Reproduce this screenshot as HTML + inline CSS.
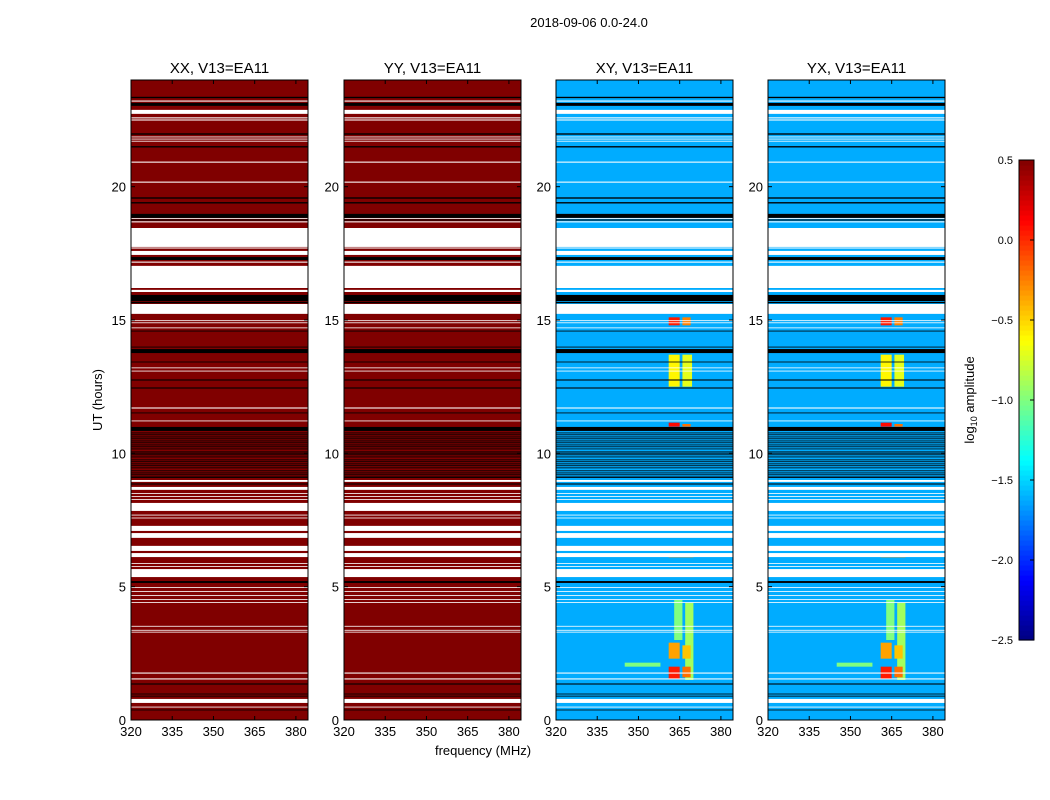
<!DOCTYPE html>
<html><head><meta charset="utf-8"><style>
body{margin:0;background:#fff;}
svg{display:block;font-family:"Liberation Sans","DejaVu Sans",sans-serif;}
</style></head><body>
<svg id="fig" width="1050" height="800">
<text x="589" y="27" font-size="13" text-anchor="middle">2018-09-06 0.0-24.0</text>
<text x="483" y="755" font-size="13" text-anchor="middle">frequency (MHz)</text>
<text transform="translate(102,400) rotate(-90)" font-size="13" text-anchor="middle">UT (hours)</text>
</svg>
<script>
// ---- data ----
const panelTitles = ["XX, V13=EA11","YY, V13=EA11","XY, V13=EA11","YX, V13=EA11"];
const panelKinds = ["auto","auto","cross","cross"];
const xTicks = [320,335,350,365,380];
const yTicks = [0,5,10,15,20];
const cbTicks = [0.5,0.0,-0.5,-1.0,-1.5,-2.0,-2.5];
const cbLabels = ["0.5","0.0","\u22120.5","\u22121.0","\u22121.5","\u22122.0","\u22122.5"];
const autoLevel = 0.5;
const crossLevel = -1.62;
// flagged (white) and zero (black) time bands: [startHour, endHour, type]
const bands = [
[23.32,23.37,'k'],[23.19,23.23,'w'],[23.03,23.14,'k'],[22.73,22.88,'w'],[22.56,22.6,'w'],[22.48,22.52,'w'],
[21.95,22.0,'k'],[21.7,21.72,'w'],[21.78,21.8,'w'],[21.86,21.88,'w'],[21.47,21.52,'k'],
[20.9,20.94,'w'],[20.15,20.19,'w'],
[19.55,19.6,'k'],[19.37,19.42,'k'],[18.83,18.98,'k'],[18.66,18.7,'w'],[18.73,18.77,'k'],[18.8,18.82,'w'],
[17.74,18.45,'w'],[17.68,17.72,'w'],[17.44,17.59,'w'],[17.25,17.36,'k'],[17.15,17.19,'w'],
[16.2,17.03,'w'],[16.05,16.13,'w'],[15.71,15.94,'k'],[15.63,15.68,'k'],[15.23,15.6,'w'],
[14.96,14.99,'w'],[14.88,14.91,'w'],[14.7,14.72,'w'],[14.57,14.6,'k'],
[13.97,14.0,'k'],[13.76,13.91,'k'],[13.41,13.44,'k'],[13.19,13.22,'w'],[13.07,13.1,'w'],[12.73,12.77,'k'],[12.43,12.47,'k'],
[11.68,11.72,'w'],[11.5,11.53,'k'],[11.2,11.23,'w'],[10.84,10.99,'k'],
[10.75,10.78,'k'],[10.68,10.71,'k'],[10.6,10.63,'k'],[10.53,10.56,'k'],[10.45,10.48,'k'],[10.38,10.41,'k'],[10.3,10.33,'k'],
[10.23,10.26,'k'],[10.15,10.18,'k'],[10.04,10.07,'k'],[10.0,10.02,'k'],[9.93,9.96,'k'],[9.85,9.88,'k'],[9.74,9.77,'k'],
[9.67,9.7,'k'],[9.59,9.62,'k'],[9.52,9.55,'k'],[9.44,9.47,'k'],[9.33,9.36,'k'],[9.25,9.28,'k'],[9.18,9.21,'k'],
[9.08,9.13,'k'],[8.93,9.0,'w'],[8.83,8.87,'k'],[8.63,8.74,'w'],[8.48,8.51,'w'],[8.37,8.4,'w'],[8.25,8.28,'w'],
[7.84,8.14,'w'],[7.67,7.7,'w'],[7.56,7.59,'w'],[7.09,7.28,'w'],[6.83,7.01,'w'],[6.34,6.53,'w'],[6.11,6.26,'w'],
[5.85,5.88,'w'],[5.74,5.77,'w'],[5.36,5.66,'w'],[5.14,5.21,'k'],
[4.95,4.98,'w'],[4.8,4.83,'w'],[4.65,4.68,'w'],[4.5,4.53,'w'],[4.39,4.42,'w'],
[3.5,3.53,'w'],[3.35,3.38,'w'],[3.28,3.31,'w'],[1.74,1.78,'w'],[1.52,1.56,'w'],[1.33,1.37,'k'],
[0.96,0.99,'k'],[0.88,0.91,'k'],[0.64,0.79,'w'],[0.47,0.5,'w'],[0.36,0.39,'k']
];
// RFI features in cross-hand panels: [fStart, fEnd, hStart, hEnd, log10 amplitude]
const rfi = [
[363,366,3.0,4.5,-1.0],[367,370,1.5,4.4,-0.9],[345,358,2.0,2.15,-1.0],
[361,365,2.3,2.9,-0.35],[366,369,2.3,2.8,-0.45],[361,365,1.55,2.0,0.05],[366,369,1.6,2.0,-0.2],
[361,370,6.1,6.22,-0.3],[361,365,12.5,13.7,-0.6],[366,369.5,12.5,13.7,-0.7],
[361,365,14.8,15.1,0.05],[366,369,14.8,15.1,-0.25],[361,365,11.0,11.15,0.1],[366,369,11.0,11.1,-0.2]
];
// ---- layout ----
const NS="http://www.w3.org/2000/svg";
const svg=document.getElementById('fig');
const panelX=[131,344,556,768], pW=177, pTop=80, pBot=720;
const fMin=320, fMax=384.4, hMin=0, hMax=24;
function jet(v){let t=(v+2.5)/3;t=Math.max(0,Math.min(1,t));
 const c=x=>Math.round(255*Math.max(0,Math.min(1,x)));
 return `rgb(${c(1.5-Math.abs(4*t-3))},${c(1.5-Math.abs(4*t-2))},${c(1.5-Math.abs(4*t-1))})`;}
function mk(tag,attrs,parent){const e=document.createElementNS(NS,tag);for(const k in attrs)e.setAttribute(k,attrs[k]);(parent||svg).appendChild(e);return e;}
panelKinds.forEach((kind,i)=>{
 const x0=panelX[i];
 const xs=f=>x0+(f-fMin)/(fMax-fMin)*pW;
 const ys=h=>pBot-(h-hMin)/(hMax-hMin)*(pBot-pTop);
 const g=mk('g',{});
 
 
 const base=mk('rect',{x:x0,y:pTop,width:pW,height:pBot-pTop,fill:jet(kind==='auto'?autoLevel:crossLevel)},g);
 
 
 if(kind==='cross'){
  rfi.forEach(r=>{
   const e=mk('rect',{x:xs(r[0]),y:ys(r[3]),width:xs(r[1])-xs(r[0]),height:ys(r[2])-ys(r[3]),fill:jet(r[4])},g);
   
   
  });
 }
 bands.forEach(b=>{
  const h=ys(b[0])-ys(b[1]);
  const e=mk('rect',{x:x0,y:ys(b[1]),width:pW,height:Math.max(0.8,h),fill:b[2]==='w'?'#fff':'#000'},g);
  
  
 });
 const fr=mk('rect',{x:x0,y:pTop,width:pW,height:pBot-pTop,fill:'none',stroke:'#000','stroke-width':1},g);
 
 
 const t=mk('text',{x:x0+pW/2,y:73,'font-size':15,'text-anchor':'middle'},g);t.textContent=panelTitles[i];
 
 
 xTicks.forEach(v=>{const x=xs(v);
  mk('line',{x1:x,x2:x,y1:pBot,y2:pBot-4,stroke:'#000'},g);mk('line',{x1:x,x2:x,y1:pTop,y2:pTop+4,stroke:'#000'},g);
  const l=mk('text',{x:x,y:pBot+16,'font-size':13,'text-anchor':'middle'},g);l.textContent=v;
  
  });
 yTicks.forEach(v=>{const y=ys(v);
  mk('line',{x1:x0,x2:x0+4,y1:y,y2:y,stroke:'#000'},g);mk('line',{x1:x0+pW,x2:x0+pW-4,y1:y,y2:y,stroke:'#000'},g);
  const l=mk('text',{x:x0-5,y:y+5,'font-size':13,'text-anchor':'end'},g);l.textContent=v;
  
  });
});
// colorbar
const cb=mk('g',{});


const cbTop=160,cbBot=640,cbX=1019,cbW=15,vMax=0.5,vMin=-2.5;
const cys=v=>cbBot-(v-vMin)/(vMax-vMin)*(cbBot-cbTop);
for(let k=0;k<96;k++){const v0=vMin+k*(vMax-vMin)/96,v1=vMin+(k+1)*(vMax-vMin)/96;
 mk('rect',{x:cbX,y:cys(v1),width:cbW,height:cys(v0)-cys(v1)+0.6,fill:jet((v0+v1)/2)},cb);}
mk('rect',{x:cbX,y:cbTop,width:cbW,height:cbBot-cbTop,fill:'none',stroke:'#000'},cb);
cbTicks.forEach((v,k)=>{const y=cys(v);
 mk('line',{x1:cbX+cbW,x2:cbX+cbW-4,y1:y,y2:y,stroke:'#000'},cb);
 const l=mk('text',{x:cbX-6,y:y+4,'font-size':11,'text-anchor':'end'},cb);l.textContent=cbLabels[k];
 
 });
const ct=mk('text',{transform:'translate(974,400) rotate(-90)','font-size':13,'text-anchor':'middle'},cb);
ct.innerHTML='log<tspan font-size="9" dy="3">10</tspan><tspan dy="-3"> amplitude</tspan>';


</script>
</body></html>
